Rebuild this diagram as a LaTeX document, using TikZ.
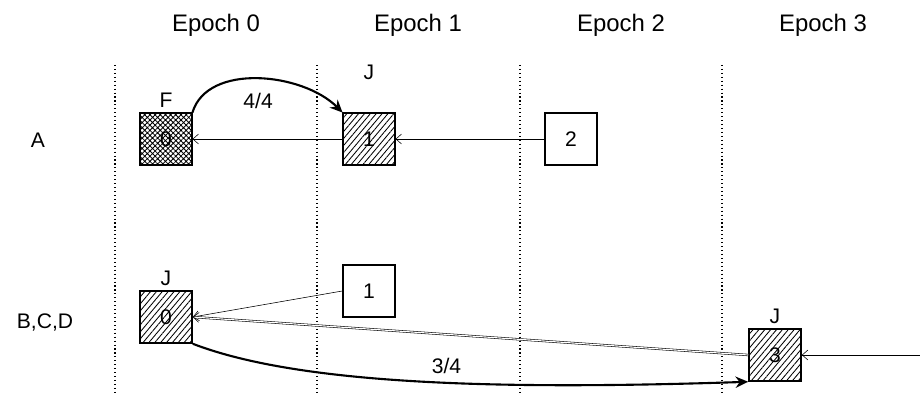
\documentclass[tikz,border=0pt]{standalone}
\usepackage{fontspec}
\setmainfont{Liberation Sans}
\usepackage{tikz}
\usetikzlibrary{calc, positioning, patterns.meta, arrows.meta}

\tikzset{
  blk/.style={draw, line width=1.1pt, minimum size=1.3cm, inner sep=0pt, fill=white},
  hatch/.style={pattern={Lines[angle=50, distance=3.2pt, line width=0.6pt]}},
  xhatch/.style={pattern={Hatch[angle=45, distance=2.6pt, line width=0.6pt]}},
  back/.style={-{Straight Barb[length=4pt, width=7pt]}},
  vote/.style={-{Stealth[length=9pt, width=8pt]}, line width=1.5pt},
}

\begin{document}
\begin{tikzpicture}[>=latex, x=0.025cm, y=-0.025cm, font=\fontsize{15}{18}\selectfont]
    \useasboundingbox (0,0) rectangle (920,394);

    % Các cột epoch
    \foreach \i/\x in {0/115,1/317,2/520,3/722} {
        \draw[dotted, thick] (\x,65) -- (\x,394);
        \node[font=\fontsize{17}{20}\selectfont] (ep\i) at (\x+101,25) {Epoch \i};
    }

    % Các hàng
    \node (rowA) at (38,140) {A};
    \node (rowB) at (45,322) {B,C,D};

    % Hàng A
    \node[blk, xhatch] (a0) at (166,139) {0};
    \node[blk, hatch] (a1) at (369,139) {1};
    \node[blk] (a2) at (571,139) {2};
    \node[above=0pt of a0] (fa0) {F};
    \node[above=0.7cm of a1] (ja1) {J};

    % Hàng B,C,D
    \node[blk, hatch] (b0) at (166,317) {0};
    \node[blk] (b1) at (369,291) {1};
    \node[blk, hatch] (b3) at (775,355) {3};
    \node[above=0pt of b0] (jb0) {J};
    \node[above=0pt of b3] (jb3) {J};
    \coordinate (in3) at (920,355);

    % Mũi tên
    \draw[back] (a1) -- (a0);
    \draw[back] (a2) -- (a1);
    \draw[back] (b1.west) -- (b0.east);
    \draw[back, double, double distance=0.8pt] (b3.west) -- (b0.east);
    \draw[back] (in3) -- (b3);
    \draw[vote] (a0.north east) .. controls +(15,-50) and +(-40,-40) .. (a1.north west)
        node[midway, below=6pt] {4/4};
    \draw[vote] (b0.south east) .. controls (300,385) and (500,390) .. (b3.south west)
        node[pos=0.55, above=2pt] {3/4};
\end{tikzpicture}
\end{document}
